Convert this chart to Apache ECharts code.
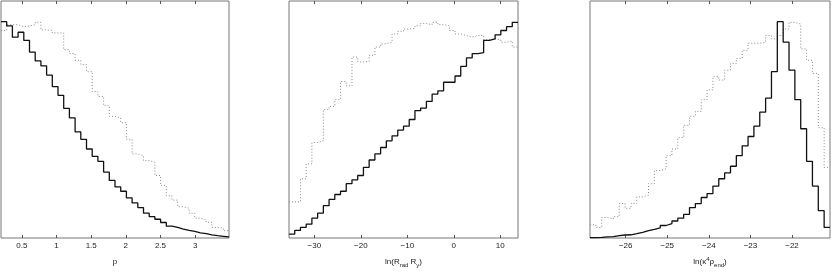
<!DOCTYPE html>
<html>
<head>
<meta charset="utf-8">
<script src="https://cdn.jsdelivr.net/npm/echarts@6/dist/echarts.min.js"></script>
<style>
html,body{margin:0;padding:0;background:#fff;}
#c{width:831px;height:273px;}
</style>
</head>
<body>
<div id="c"></div>
<script>
// ---- Data (normalised histogram heights) ----
const pRange = [0.198, 3.489];
const pTicks = [0.5, 1, 1.5, 2, 2.5, 3];
const pSolid = [1.004,0.985,0.932,0.955,0.917,0.863,0.822,0.799,0.756,0.703,
  0.662,0.602,0.558,0.493,0.458,0.413,0.379,0.356,0.306,0.267,
  0.237,0.217,0.186,0.163,0.141,0.115,0.099,0.087,0.072,0.055,
  0.049,0.041,0.035,0.031,0.024,0.020,0.015,0.011,0.008,0.005];
const pDotted = [0.963,0.990,0.990,0.981,0.984,0.990,1.001,0.966,0.963,0.952,
  0.952,0.874,0.856,0.825,0.805,0.772,0.680,0.657,0.614,0.565,
  0.558,0.535,0.458,0.390,0.382,0.359,0.351,0.290,0.244,0.196,
  0.176,0.145,0.138,0.115,0.092,0.084,0.073,0.049,0.046,0.034];

const rRange = [-35.44, 13.81];
const rTicks = [-30, -20, -10, 0, 10];
const rSolid = [0.018,0.035,0.049,0.064,0.092,0.115,0.150,0.179,0.202,0.217,
  0.252,0.270,0.290,0.328,0.362,0.390,0.420,0.451,0.474,0.501,
  0.519,0.550,0.591,0.603,0.634,0.668,0.683,0.723,0.723,0.752,
  0.797,0.836,0.856,0.860,0.917,0.924,0.943,0.963,0.981,1.001];
const rDotted = [0.168,0.168,0.275,0.344,0.443,0.451,0.596,0.611,0.642,0.726,
  0.706,0.840,0.817,0.820,0.848,0.886,0.901,0.909,0.947,0.959,
  0.970,0.973,0.985,0.996,0.990,1.001,0.990,0.985,0.963,0.947,
  0.940,0.932,0.940,0.940,0.920,0.924,0.920,0.909,0.914,0.886];

const kRange = [-26.859, -21.086];
const kTicks = [-26, -25, -24, -23, -22];
const kSolid = [0.002,0.003,0.005,0.006,0.011,0.014,0.015,0.020,0.026,0.034,
  0.040,0.047,0.058,0.067,0.079,0.092,0.110,0.141,0.160,0.188,
  0.206,0.241,0.275,0.302,0.333,0.382,0.428,0.471,0.519,0.584,
  0.649,0.772,1.004,0.909,0.779,0.642,0.507,0.356,0.241,0.127,0.049];
const kDotted = [0.061,0.049,0.095,0.089,0.099,0.160,0.138,0.160,0.191,0.199,
  0.252,0.313,0.321,0.382,0.413,0.466,0.523,0.565,0.588,0.642,
  0.688,0.749,0.733,0.779,0.810,0.833,0.871,0.904,0.904,0.909,
  0.940,0.924,0.940,0.970,1.001,0.993,0.878,0.825,0.764,0.512,0.328];

const xNames = ['p',
  '{n|ln(R}{s|rad}{n| R}{s|y}{n|)}',
  '{n|ln(κ}{u|4}{n|ρ}{s|end}{n|)}'];

// ---- build step data: equal-width bins spanning the axis range ----
function stepData(range, vals) {
  const n = vals.length, w = (range[1] - range[0]) / n;
  const out = vals.map((v, i) => [range[0] + i * w, v]);
  out.push([range[1], vals[n - 1]]);
  return out;
}

const FONT = "'Liberation Sans', Arial, sans-serif";
const grids = [
  {left: 1, top: 1, width: 228, height: 239},
  {left: 289, top: 1, width: 229, height: 239},
  {left: 590, top: 1, width: 240, height: 239}
];
const ranges = [pRange, rRange, kRange];
const ticks = [pTicks, rTicks, kTicks];
const solids = [pSolid, rSolid, kSolid];
const dotteds = [pDotted, rDotted, kDotted];

const fmt = v => String(v).replace('-', '\u2212');
const rich = {
  n: {fontSize: 8, lineHeight: 12, fontFamily: FONT, color: '#222'},
  s: {fontSize: 6, lineHeight: 7, verticalAlign: 'bottom', fontFamily: FONT, color: '#222'},
  u: {fontSize: 6, lineHeight: 7, verticalAlign: 'top', fontFamily: FONT, color: '#222'}
};

const xAxis = [], yAxis = [], series = [];
grids.forEach((g, i) => {
  const tk = ticks[i];
  xAxis.push({
    type: 'value', gridIndex: i, position: 'bottom',
    min: ranges[i][0], max: ranges[i][1],
    name: xNames[i], nameLocation: 'middle', nameGap: 18,
    nameTextStyle: {fontSize: 8, lineHeight: 12, fontFamily: FONT, color: '#222', rich: rich},
    axisLine: {show: false},
    axisTick: {show: true, inside: true, length: 3, customValues: tk, lineStyle: {color: '#555'}},
    axisLabel: {show: true, customValues: tk, formatter: fmt, fontSize: 8, margin: 4,
      fontFamily: FONT, color: '#222'},
    splitLine: {show: false}
  });
  xAxis.push({
    type: 'value', gridIndex: i, position: 'top',
    min: ranges[i][0], max: ranges[i][1],
    axisLine: {show: false},
    axisTick: {show: true, inside: true, length: 3, customValues: tk, lineStyle: {color: '#555'}},
    axisLabel: {show: false},
    splitLine: {show: false}
  });
  yAxis.push({
    type: 'value', gridIndex: i, min: 0, max: 1.1,
    axisLine: {show: false}, axisTick: {show: false},
    axisLabel: {show: false}, splitLine: {show: false}
  });
  series.push({
    type: 'line', xAxisIndex: 2 * i, yAxisIndex: i, step: 'end',
    data: stepData(ranges[i], dotteds[i]), showSymbol: false, symbol: 'none',
    lineStyle: {color: '#888', width: 1, type: [1, 2]}, z: 2, silent: true
  });
  series.push({
    type: 'line', xAxisIndex: 2 * i, yAxisIndex: i, step: 'end',
    data: stepData(ranges[i], solids[i]), showSymbol: false, symbol: 'none',
    lineStyle: {color: '#111', width: 1.3}, z: 3, silent: true
  });
});

const chart = echarts.init(document.getElementById('c'), null, {renderer: 'canvas'});
chart.setOption({
  animation: false,
  backgroundColor: '#fff',
  grid: grids.map(g => Object.assign({show: true, borderColor: '#777', borderWidth: 1,
    backgroundColor: 'transparent'}, g)),
  xAxis: xAxis,
  yAxis: yAxis,
  series: series
});
</script>
</body>
</html>
